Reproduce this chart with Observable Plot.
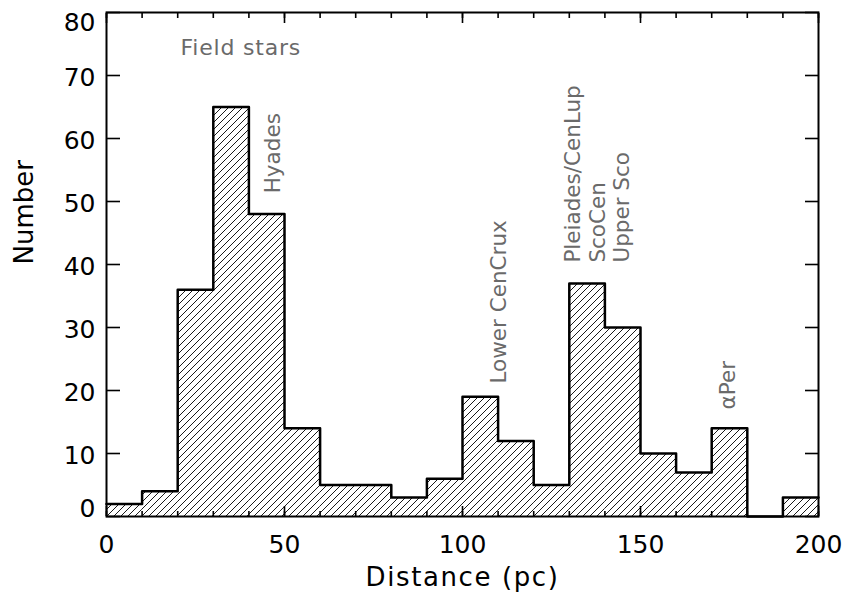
<!DOCTYPE html>
<html><head><meta charset="utf-8">
<script src="https://cdn.jsdelivr.net/npm/d3@7"></script>
<script src="https://cdn.jsdelivr.net/npm/@observablehq/plot@0.6"></script>
<style>body{margin:0;background:#fff} svg{display:block;background:#fff}</style>
</head><body><div id="chart"></div>
<script>
// Histogram bins (pc) and counts
const binStarts = [0,10,20,30,40,50,60,70,80,90,100,110,120,130,140,150,160,170,180,190];
const binWidth = 10;
const counts = [2,4,36,65,48,14,5,5,3,6,19,12,5,37,30,10,7,14,0,3];
const xTickLabels = [0,50,100,150,200];
const xMinorTicks = [0,10,20,30,40,50,60,70,80,90,100,110,120,130,140,150,160,170,180,190,200];
const yTickLabels = [0,10,20,30,40,50,60,70,80];
const annLabels = ["Field stars","Hyades","Lower CenCrux","Pleiades/CenLup\nScoCen\nUpper Sco","αPer"];
const annX = [37.7, 46.4, 109.9, 137.8, 174.3];
const annY = [74.3, 51.3, 21.1, 40.3, 17.0];
const annRotate = [0, -90, -90, -90, -90];

const bins = binStarts.map((s, i) => ({x0: s, x1: s + binWidth, v: counts[i]}));
const steps = bins.map(b => ({x: b.x0, v: b.v})).concat([{x: bins[bins.length-1].x1, v: bins[bins.length-1].v}]);
const ann = annLabels.map((t, i) => ({text: t, x: annX[i], y: annY[i], rotate: annRotate[i]}));
const yFirst = yTickLabels[0], yLast = yTickLabels[yTickLabels.length-1];
const yMid = yTickLabels.filter(t => t !== yFirst && t !== yLast);

const font = "DejaVu Sans, sans-serif";
const gray = "#6a6a6a";

const chart = Plot.plot({
  width: 848, height: 604,
  marginLeft: 106, marginRight: 30, marginTop: 12, marginBottom: 88,
  style: {fontFamily: font, background: "#fff", color: "#000"},
  x: {domain: [0, 200]},
  y: {domain: [0, 80]},
  marks: [
    Plot.rectY(bins, {x1: "x0", x2: "x1", y: "v", fill: "url(#hatch)"}),
    Plot.line(steps, {x: "x", y: "v", curve: "step-after", stroke: "#000", strokeWidth: 2.5}),
    // minor x ticks bottom/top
    Plot.axisX({anchor: "bottom", ticks: xMinorTicks, tickSize: 5, dy: -5, fill: "none", label: null, strokeWidth: 1.6}),
    Plot.axisX({anchor: "top", ticks: xMinorTicks, tickSize: 5, dy: 5, fill: "none", label: null, strokeWidth: 1.6}),
    // major x ticks
    Plot.axisX({anchor: "bottom", ticks: xTickLabels, tickSize: 10, dy: -10, fill: "none", label: null, strokeWidth: 1.6}),
    Plot.axisX({anchor: "top", ticks: xTickLabels, tickSize: 10, dy: 10, fill: "none", label: null, strokeWidth: 1.6}),
    // y ticks left/right
    Plot.axisY({anchor: "left", ticks: yTickLabels, tickSize: 14, dx: 14, fill: "none", label: null, strokeWidth: 1.6}),
    Plot.axisY({anchor: "right", ticks: yTickLabels, tickSize: 14, dx: -14, fill: "none", label: null, strokeWidth: 1.6}),
    // tick labels
    Plot.axisX({anchor: "bottom", ticks: xTickLabels, tickSize: 0, tickPadding: 19, fontSize: 25, label: null, fill: "#000"}),
    Plot.axisY({anchor: "left", ticks: yMid, tickSize: 0, tickPadding: 11, dy: 2, fontSize: 25, label: null, fill: "#000"}),
    Plot.axisY({anchor: "left", ticks: [yFirst], tickSize: 0, tickPadding: 11, dy: -8, fontSize: 25, label: null, fill: "#000"}),
    Plot.axisY({anchor: "left", ticks: [yLast], tickSize: 0, tickPadding: 11, dy: 10, fontSize: 25, label: null, fill: "#000"}),
    Plot.frame({stroke: "#000", strokeWidth: 2}),
    // axis titles
    Plot.text(["Distance (pc)"], {frameAnchor: "bottom", dy: 69, fontSize: 26, fill: "#000", text: d => d}),
    Plot.text(["Number"], {frameAnchor: "left", dx: -82, rotate: -90, fontSize: 26, fill: "#000", text: d => d}),
    // annotations
    Plot.text(ann.filter(d => d.rotate === 0), {x: "x", y: "y", text: "text", fontSize: 22, fill: gray, textAnchor: "middle"}),
    Plot.text(ann.filter(d => d.rotate !== 0), {x: "x", y: "y", text: "text", rotate: -90, fontSize: 21.5, fill: gray, textAnchor: "start", lineHeight: 1.14})
  ]
});

d3.select(chart).insert("defs", ":first-child").html(
  `<pattern id="hatch" patternUnits="userSpaceOnUse" width="7" height="7">
     <path d="M-1,1 l2,-2 M0,7 l7,-7 M6,8 l2,-2" stroke="#000" stroke-width="0.9" fill="none"/>
   </pattern>`);
d3.select(chart).selectAll("text").filter(function() { return this.textContent === "Distance (pc)"; }).style("letter-spacing", "1.6px");
d3.select(chart).selectAll("text").filter(function() { return this.textContent === "Field stars"; }).style("letter-spacing", "0.8px");
document.getElementById("chart").appendChild(chart);
</script>
</body></html>
